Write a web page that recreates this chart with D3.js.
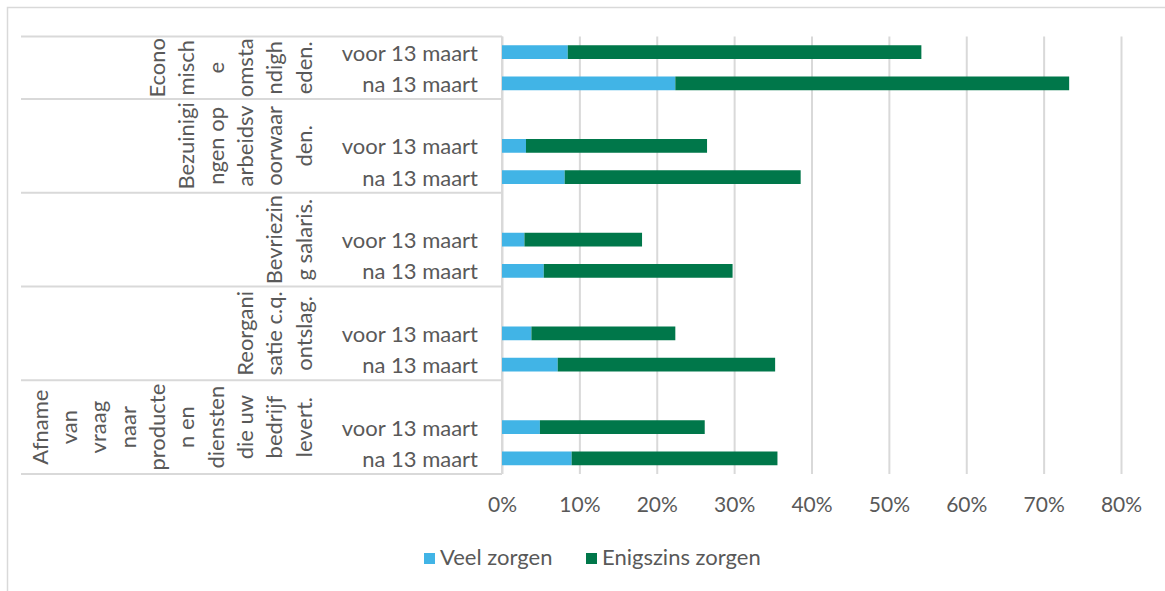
<!DOCTYPE html>
<html>
<head>
<meta charset="utf-8">
<script src="https://cdn.jsdelivr.net/npm/d3@7"></script>
<style>
  html, body { margin: 0; padding: 0; background: #fff; }
  svg text { font-family: Lato, "Open Sans", sans-serif; fill: #595959; }
</style>
</head>
<body>
<svg id="chart" width="1165" height="591"></svg>
<script>
// Categories (top to bottom), with the wrapped lines as they appear on the axis
const groups = [
  "Economische omstandigheden.",
  "Bezuinigingen op arbeidsvoorwaarden.",
  "Bevriezing salaris.",
  "Reorganisatie c.q. ontslag.",
  "Afname van vraag naar producten en diensten die uw bedrijf levert."
];
const groupLines = [
  ["Econo", "misch", "e", "omsta", "ndigh", "eden."],
  ["Bezuinigi", "ngen op", "arbeidsv", "oorwaar", "den."],
  ["Bevriezin", "g salaris."],
  ["Reorgani", "satie c.q.", "ontslag."],
  ["Afname", "van", "vraag", "naar", "producte", "n en", "diensten", "die uw", "bedrijf", "levert."]
];
const periods = ["voor 13 maart", "na 13 maart"];

// Share of respondents (%), per group: voor, na
const veelZorgen      = [8.5, 22.4, 3.1, 8.1, 2.9, 5.4, 3.8, 7.2, 4.9, 9.0];
const enigszinsZorgen = [45.7, 50.9, 23.4, 30.5, 15.2, 24.4, 18.6, 28.1, 21.3, 26.6];

const seriesNames = ["Veel zorgen", "Enigszins zorgen"];
const seriesColors = ["#41b4e6", "#00774a"];

const xTicks = [0, 10, 20, 30, 40, 50, 60, 70, 80];
const xTickLabels = ["0%", "10%", "20%", "30%", "40%", "50%", "60%", "70%", "80%"];

// ---- layout ----
const svg = d3.select("#chart");
const plotLeft = 502, plotRight = 1121, plotTop = 36.5, plotBottom = 474;
const catLineLeft = 21;
const grid = "#d9d9d9";
const fs = 22;

// outer chart frame
svg.append("rect")
  .attr("x", 7.5).attr("y", 7.5).attr("width", 1200).attr("height", 620)
  .attr("fill", "none").attr("stroke", grid).attr("stroke-width", 1.5);

// rows: each group after the first gets a spacer row above it
const rows = [];
groups.forEach((g, gi) => {
  if (gi > 0) rows.push({ key: "gap" + gi, group: gi, gap: true });
  periods.forEach((p, pi) => rows.push({ key: gi + "|" + pi, group: gi, period: pi, idx: gi * 2 + pi }));
});

const y = d3.scaleBand().domain(rows.map(r => r.key)).range([plotTop, plotBottom]).padding(0);
const x = d3.scaleLinear().domain([0, 80]).range([plotLeft, plotRight]);

// vertical gridlines + tick labels
const xAxis = d3.axisBottom(x)
  .tickValues(xTicks)
  .tickFormat((d, i) => xTickLabels[i])
  .tickSizeInner(-(plotBottom - plotTop))
  .tickSizeOuter(0)
  .tickPadding(23);

const gx = svg.append("g").attr("transform", `translate(0,${plotBottom})`).call(xAxis);
gx.select(".domain").remove();
gx.selectAll(".tick line").attr("stroke", grid).attr("stroke-width", 2);
gx.selectAll(".tick text")
  .attr("font-size", 21).attr("fill", "#595959")
  .style("font-family", "Lato, 'Open Sans', sans-serif");

// category axis line
svg.append("line")
  .attr("x1", plotLeft).attr("x2", plotLeft)
  .attr("y1", plotTop).attr("y2", plotBottom)
  .attr("stroke", grid).attr("stroke-width", 2);

// group extents
const groupBands = groups.map((g, gi) => {
  const rs = rows.filter(r => r.group === gi);
  const top = y(rs[0].key);
  const bottom = y(rs[rs.length - 1].key) + y.bandwidth();
  return { gi, top, bottom };
});

// group separator lines
const sepYs = groupBands.map(b => b.top).concat([plotBottom]);
svg.append("g").selectAll("line").data(sepYs).join("line")
  .attr("x1", catLineLeft).attr("x2", plotLeft)
  .attr("y1", d => d).attr("y2", d => d)
  .attr("stroke", grid).attr("stroke-width", 2);

// stacked bars
const dataRows = rows.filter(r => !r.gap);
const barH = y.bandwidth() * 0.44;
const stacks = [veelZorgen, enigszinsZorgen];
stacks.forEach((vals, si) => {
  svg.append("g").selectAll("rect").data(dataRows).join("rect")
    .attr("x", r => x(si === 0 ? 0 : veelZorgen[r.idx]))
    .attr("width", r => x(si === 0 ? vals[r.idx] : veelZorgen[r.idx] + vals[r.idx]) - x(si === 0 ? 0 : veelZorgen[r.idx]))
    .attr("y", r => y(r.key) + (y.bandwidth() - barH) / 2)
    .attr("height", barH)
    .attr("fill", seriesColors[si]);
});

// period labels
svg.append("g").selectAll("text").data(dataRows).join("text")
  .attr("x", 478)
  .attr("y", r => y(r.key) + y.bandwidth() / 2)
  .attr("text-anchor", "end")
  .attr("dominant-baseline", "central")
  .attr("font-size", fs)
  .text(r => periods[r.period]);

// rotated group labels, one column per wrapped line
const colStep = 29.3, lastColX = 303;
groupBands.forEach(b => {
  const lines = groupLines[b.gi];
  const cy = (b.top + b.bottom) / 2;
  lines.forEach((ln, li) => {
    const cx = lastColX - (lines.length - 1 - li) * colStep;
    svg.append("text")
      .attr("transform", `translate(${cx},${cy}) rotate(-90)`)
      .attr("text-anchor", "middle")
      .attr("dominant-baseline", "central")
      .attr("font-size", fs)
      .text(ln);
  });
});

// legend
const legendItems = [
  { name: seriesNames[0], color: seriesColors[0], x: 424 },
  { name: seriesNames[1], color: seriesColors[1], x: 586 }
];
const lg = svg.append("g").selectAll("g").data(legendItems).join("g");
lg.append("rect")
  .attr("x", d => d.x).attr("y", 553).attr("width", 11).attr("height", 11)
  .attr("fill", d => d.color);
lg.append("text")
  .attr("x", d => d.x + 16).attr("y", 565)
  .attr("font-size", fs)
  .text(d => d.name);
</script>
</body>
</html>
